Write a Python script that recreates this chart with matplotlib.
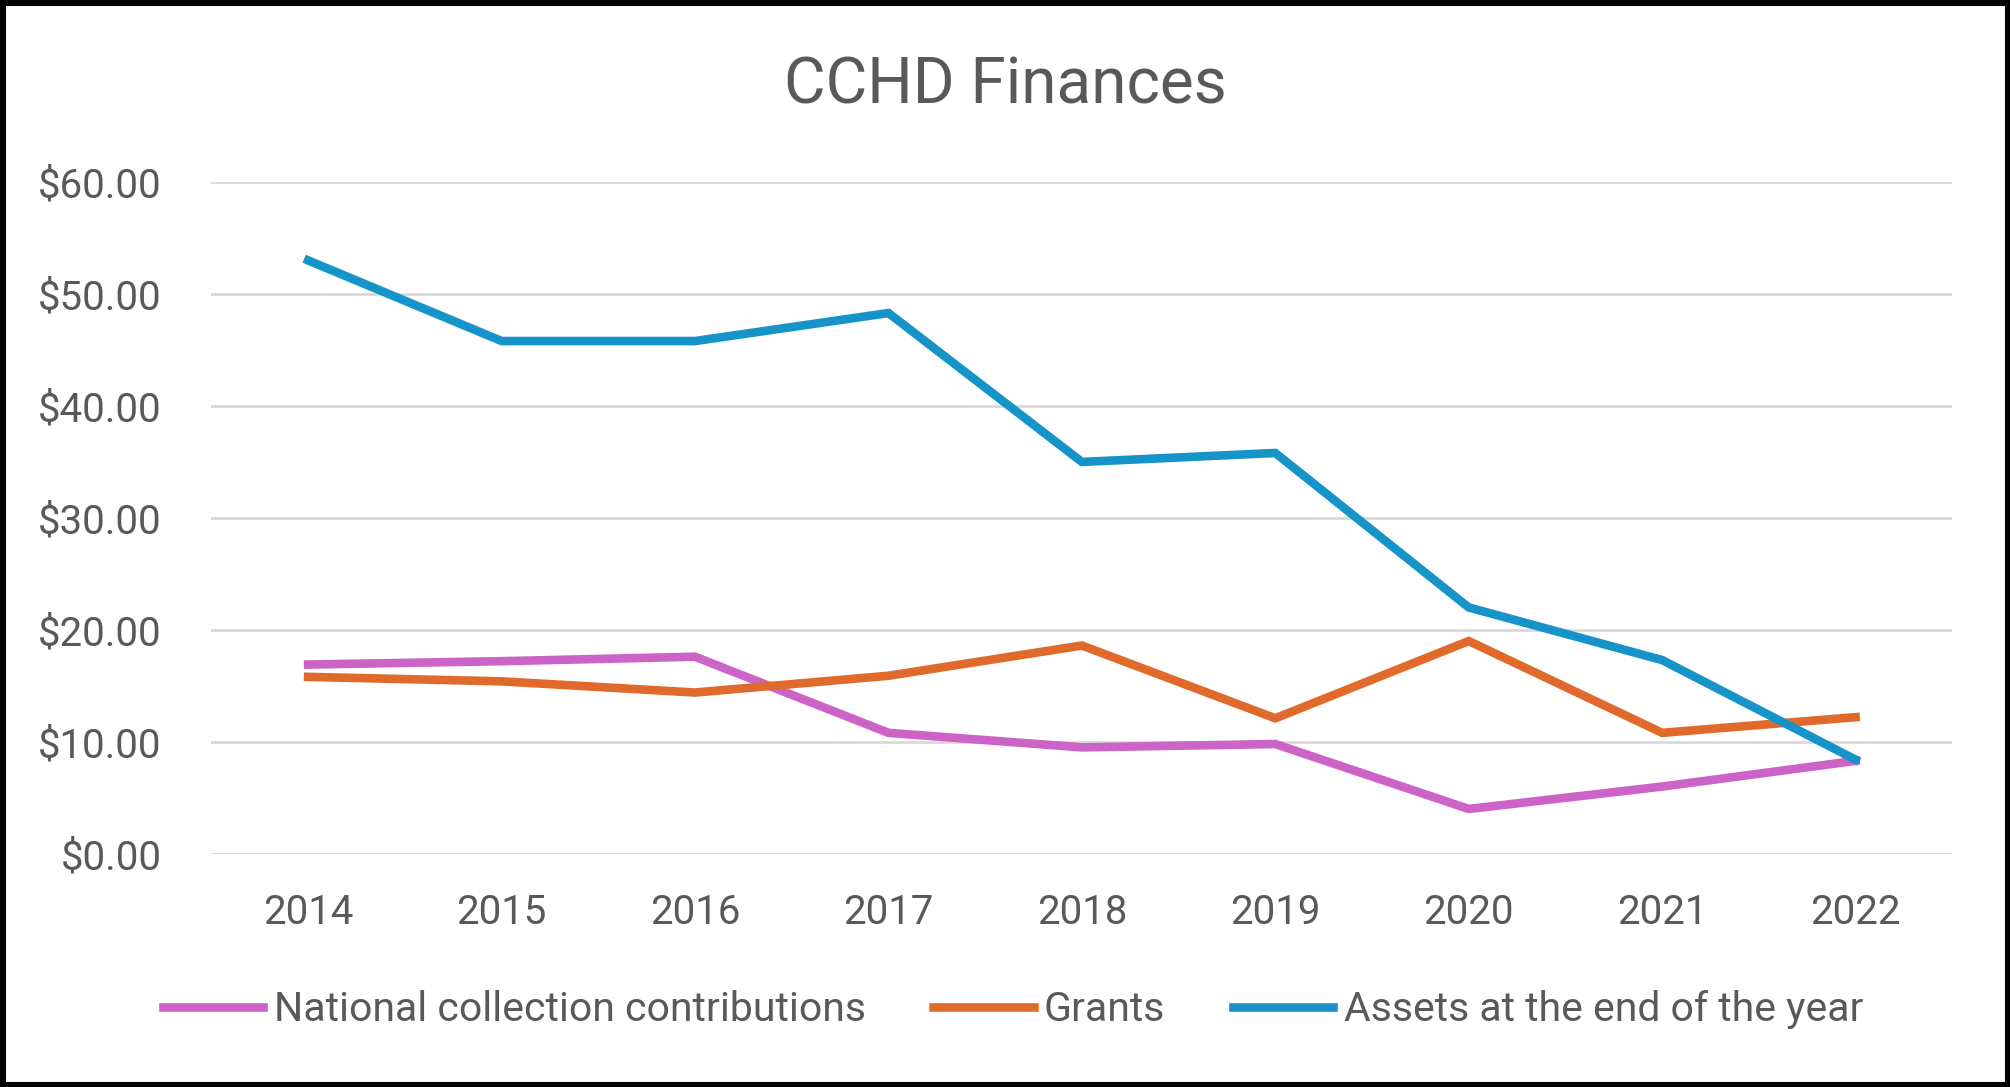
import matplotlib.pyplot as plt
from matplotlib.patches import Rectangle
from matplotlib.ticker import FuncFormatter

plt.rcParams['font.family'] = ['Roboto', 'DejaVu Sans']

years = ['2014', '2015', '2016', '2017', '2018', '2019', '2020', '2021', '2022']
national = [16.9, 17.2, 17.6, 10.8, 9.5, 9.8, 4.0, 6.0, 8.3]
grants = [15.8, 15.4, 14.4, 15.9, 18.6, 12.1, 19.0, 10.8, 12.2]
assets = [53.0, 45.8, 45.8, 48.3, 35.0, 35.8, 22.0, 17.3, 8.4]

series_names = ['National collection contributions', 'Grants', 'Assets at the end of the year']
colors = ['#CC63C6', '#E06A2C', '#1693C8']

fig = plt.figure(figsize=(20.1, 10.87), dpi=100)
ax = fig.add_axes([0.1052, 0.2146, 0.8661, 0.6179])

x = list(range(len(years)))
for vals, name, c in zip([national, grants, assets], series_names, colors):
    ax.plot(x, vals, color=c, lw=6.2, label=name, solid_joinstyle='miter')

ax.set_xlim(-0.5, len(years) - 0.5)
ax.set_ylim(0, 60)
ax.set_yticks(range(0, 61, 10))
ax.yaxis.set_major_formatter(FuncFormatter(lambda v, p: '${:.2f}'.format(v)))
ax.set_xticks(x)
ax.set_xticklabels(years)
ax.grid(axis='y', color='#D9D9D9', lw=2)
ax.set_axisbelow(True)
for s in ax.spines.values():
    s.set_visible(False)
ax.tick_params(axis='both', length=0, labelsize=29, labelcolor='#595959')
ax.tick_params(axis='y', pad=36)
ax.tick_params(axis='x', pad=28)

fig.text(0.5, 0.921, 'CCHD Finances', ha='center', va='center', fontsize=46, color='#595959')

fig.legend(loc='center', bbox_to_anchor=(0.504, 0.071), ncol=3, frameon=False,
           fontsize=29.5, labelcolor='#595959', handlelength=2.45, handletextpad=0.25,
           columnspacing=1.65)

fig.add_artist(Rectangle((0, 0), 1, 1, transform=fig.transFigure, fill=False,
                         edgecolor='black', lw=8))

fig.savefig('out.png', dpi=100)
